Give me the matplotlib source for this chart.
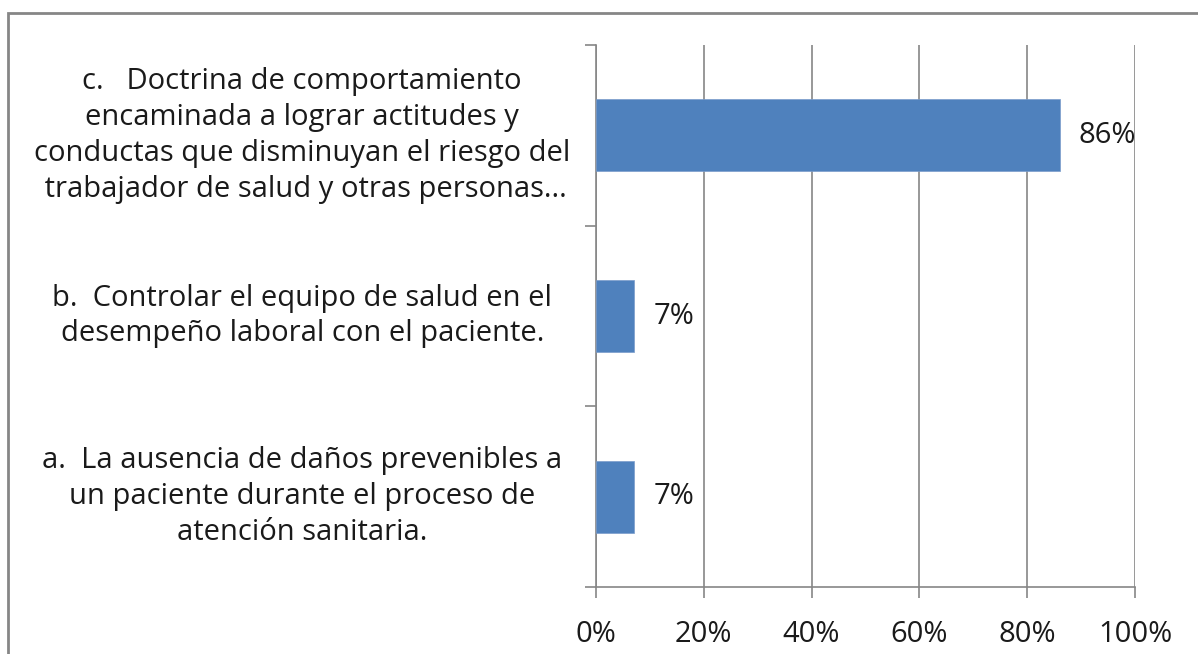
import matplotlib
matplotlib.use("Agg")
import matplotlib.pyplot as plt
import matplotlib.patches as patches
from matplotlib.ticker import FuncFormatter

# Datos
opciones = [
    "a.  La ausencia de daños prevenibles a\nun paciente durante el proceso de\natención sanitaria.",
    "b.  Controlar el equipo de salud en el\ndesempeño laboral con el paciente.",
    "c.   Doctrina de comportamiento\nencaminada a lograr actitudes y\nconductas que disminuyan el riesgo del\n trabajador de salud y otras personas...",
]
porcentajes = [7, 7, 86]
etiquetas = ["7%", "7%", "86%"]
ticks_x = [0, 20, 40, 60, 80, 100]

plt.rcParams['font.family'] = ['Open Sans', 'DejaVu Sans']
gris = '#868686'
azul = '#4F81BD'
texto = '#1a1a1a'

fig = plt.figure(figsize=(11.98, 6.54), dpi=100)
ax = fig.add_axes([596 / 1198, 1 - 587 / 654, 539 / 1198, 542 / 654])

pos = list(range(len(opciones)))
ax.barh(pos, porcentajes, height=0.4, color=azul, edgecolor='#7A9CCB', linewidth=0.5, zorder=3)

for y, v, t in zip(pos, porcentajes, etiquetas):
    ax.annotate(t, (v, y), xytext=(14, 0), textcoords='offset points',
                va='center', ha='left', fontsize=21, color=texto)
    ax.text(-0.545, y, opciones[y], transform=ax.get_yaxis_transform(),
            ha='center', va='center', fontsize=21, linespacing=1.31, color=texto)

ax.set_xlim(0, 100)
ax.set_ylim(-0.5, 2.5)
ax.set_xticks(ticks_x)
ax.xaxis.set_major_formatter(FuncFormatter(lambda v, p: f"{v:.0f}%"))
ax.set_yticks([-0.5, 0.5, 1.5, 2.5])
ax.set_yticklabels([])

ax.grid(axis='x', color=gris, linewidth=1.2, zorder=0)
ax.tick_params(axis='x', length=8, width=1.2, color=gris, labelsize=21, pad=16, labelcolor=texto)
ax.tick_params(axis='y', length=8, width=1.2, color=gris)
for s in ['top', 'right']:
    ax.spines[s].set_visible(False)
for s in ['left', 'bottom']:
    ax.spines[s].set_color(gris)
    ax.spines[s].set_linewidth(1.2)

# marco del gráfico
marco = patches.Rectangle((8 / 1198, -0.5), 1.5, 1.5 - 13 / 654,
                          transform=fig.transFigure, fill=False,
                          edgecolor=gris, linewidth=2, clip_on=False)
fig.patches.append(marco)

plt.savefig('out.png', dpi=100)
